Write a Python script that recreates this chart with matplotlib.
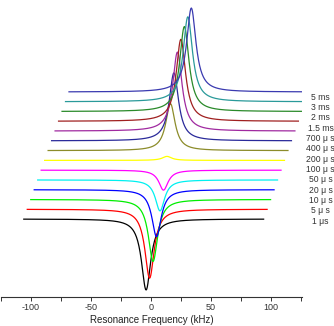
import numpy as np
import matplotlib
matplotlib.use("Agg")
import matplotlib.pyplot as plt
from matplotlib.ticker import MultipleLocator

plt.rcParams['font.family'] = ['Liberation Sans', 'DejaVu Sans']
plt.rcParams['axes.unicode_minus'] = False

# delay times (bottom to top), the top trace carries no label
delays = ['1 μs', '5 μ s', '10 μ s', '20 μ s', '50 μ s', '100 μ s', '200 μ s',
          '400 μ s', '700 μ s', '1.5 ms', '2 ms', '3 ms', '5 ms']
# peak amplitude of each trace (arbitrary units)
amps = [-71, -69, -62, -47, -31, -20, 4, 47, 68, 79, 82, 85, 85, 84]
colors = ['#000000', '#ff0000', '#00ee00', '#0000ff', '#00f0f0', '#ff00ff',
          '#ffff00', '#8c8c2a', '#2a2a9a', '#a02aa0', '#a02020', '#2a8a2a',
          '#2a9a9a', '#3a3ab0']

center = -4.0     # kHz
hwhm = 4.7        # kHz
freq = np.arange(-106, 94.5, 0.5)

# waterfall offsets
dx = 2.9
dy = 9.77

fig = plt.figure(figsize=(3.34, 3.26), dpi=100)
ax = fig.add_axes([1 / 334, 29 / 326, 301 / 334, 297 / 326])

for i, (a, c) in enumerate(zip(amps, colors)):
    y = a / (1 + ((freq - center) / hwhm) ** 2)
    ax.plot(freq + i * dx, y + i * dy, color=c, lw=0.9)

for k, lab in enumerate(delays):
    ax.text(141.5, -2 + k * 10.3, lab, fontsize=6.2, ha='center', va='center',
            color='#333333', clip_on=False)

ax.set_xlim(-125, 126)
ax.set_ylim(-78, 219)
for s in ['left', 'right', 'top']:
    ax.spines[s].set_visible(False)
ax.spines['bottom'].set_linewidth(0.8)
ax.spines['bottom'].set_color('#333333')
ax.set_yticks([])
ax.xaxis.set_major_locator(MultipleLocator(50))
ax.xaxis.set_minor_locator(MultipleLocator(25))
ax.tick_params(axis='x', which='both', direction='out', length=3, width=0.7,
               colors='#333333', labelsize=6.5, pad=1.5)
ax.set_xlabel('Resonance Frequency (kHz)', fontsize=7, color='#222222', labelpad=2)

fig.savefig('out.png', dpi=100)
